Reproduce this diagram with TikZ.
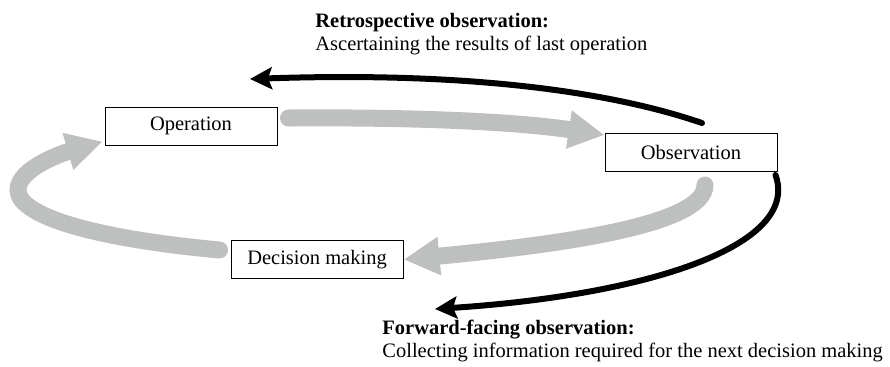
\documentclass[tikz,border=0pt]{standalone}
\usepackage{fontspec}
\setmainfont{Liberation Serif}
\usepackage{tikz}
\usetikzlibrary{arrows.meta,calc}
\definecolor{cycgray}{HTML}{BEC0BF}

\begin{document}
\begin{tikzpicture}[x=0.5pt, y=-0.5pt,
    font=\fontsize{10.25pt}{11.5pt}\selectfont,
    box/.style={draw, line width=0.5pt, minimum width=86pt, minimum height=19pt,
                inner sep=0pt},
    label/.style={anchor=north west, align=left, inner sep=0pt},
    gfl/.style={-{Triangle[length=18pt, width=18pt]}, line width=8.5pt,
                line cap=round, cycgray},
    bfl/.style={-{Stealth[length=11pt, width=11pt, inset=2pt]}, line width=3pt,
                line cap=round, black},
  ]
    \useasboundingbox (0,0) rectangle (890,366);
    % the three stages of the cycle
    \node[box] (op)  at (191,126)   {Operation};
    \node[box] (obs) at (691,152.5) {Observation};
    \node[box] (dec) at (317,259.5) {Decision making};
    % free ends of the two observation arrows
    \coordinate (retroTip) at (250,79);
    \coordinate (fwdTip)   at (435,309);
    \coordinate (loopL)    at (18,190);
    % grey cycle
    \draw[gfl] ([shift={(11,-8)}]op.east)
       .. controls +(130,-1) and +(-85,-13) .. ([shift={(0,2)}]obs.north west);
    \draw[gfl] ([shift={(14,13)}]obs.south)
       .. controls +(0,40) and +(157,-15) .. (dec.east);
    \draw[gfl] ([shift={(-11,-9.5)}]dec.west)
       .. controls +(-130,-12) and +(0,25) .. (loopL)
       .. controls +(0,-22) and +(-38,11) .. ([shift={(-2,-4)}]op.south west);
    % black observation arrows
    \draw[bfl] ([shift={(11,-10)}]obs.north)
       .. controls +(-102,-35) and +(200,-7) .. (retroTip);
    \draw[bfl] ([shift={(-2,3)}]obs.south east)
       .. controls +(25,70) and +(215,-14) .. (fwdTip);
    % labels
    \node[label] (retro) at (315,13)
       {\textbf{Retrospective observation:}\\Ascertaining the results of last operation};
    \node[label] (fwd) at (382,320)
       {\textbf{Forward-facing observation:}\\Collecting information required for the next decision making};
  \end{tikzpicture}
\end{document}
